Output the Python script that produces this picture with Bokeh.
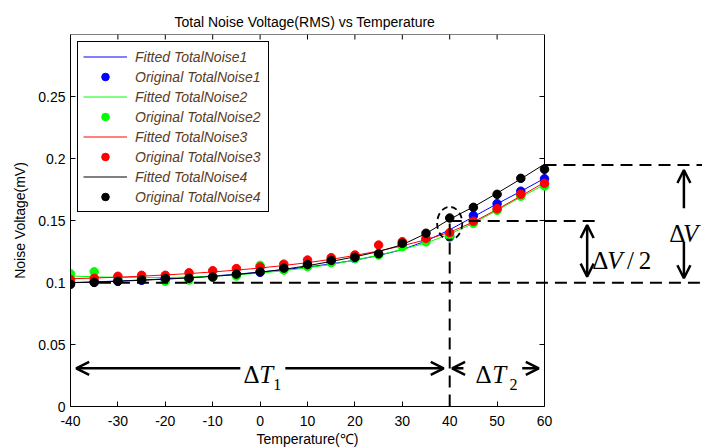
from bokeh.plotting import figure
from bokeh.models import Range1d, FixedTicker, Arrow, OpenHead, Title
from bokeh.embed import file_html
from bokeh.resources import INLINE
from bokeh.core.properties import value

# ---------------- data ----------------
temperature = [-40, -35, -30, -25, -20, -15, -10, -5, 0, 5, 10, 15, 20, 25, 30, 35, 40, 45, 50, 55, 60]

orig1 = [0.0995, 0.1003, 0.1010, 0.1018, 0.1026, 0.1034, 0.1044, 0.1062, 0.1082, 0.1106, 0.1135,
         0.1165, 0.1193, 0.1226, 0.1300, 0.1340, 0.1368, 0.1540, 0.1636, 0.1736, 0.1836]
fit1 = [0.0999, 0.1005, 0.1012, 0.1020, 0.1029, 0.1040, 0.1052, 0.1067, 0.1084, 0.1103, 0.1125,
        0.1150, 0.1180, 0.1218, 0.1265, 0.1335, 0.1425, 0.1530, 0.1635, 0.1735, 0.1840]

orig2 = [0.1070, 0.1086, 0.1030, 0.1028, 0.1010, 0.1020, 0.1042, 0.1052, 0.1138, 0.1100, 0.1128,
         0.1160, 0.1195, 0.1222, 0.1289, 0.1328, 0.1375, 0.1477, 0.1582, 0.1696, 0.1778]
fit2 = [0.1052, 0.1046, 0.1041, 0.1039, 0.1040, 0.1044, 0.1051, 0.1062, 0.1076, 0.1095, 0.1118,
        0.1146, 0.1180, 0.1220, 0.1267, 0.1318, 0.1390, 0.1478, 0.1582, 0.1688, 0.1790]

orig3 = [0.1024, 0.1034, 0.1050, 0.1058, 0.1058, 0.1078, 0.1095, 0.1112, 0.1125, 0.1148, 0.1181,
         0.1200, 0.1222, 0.1302, 0.1329, 0.1356, 0.1402, 0.1494, 0.1595, 0.1712, 0.1800]
fit3 = [0.1030, 0.1036, 0.1043, 0.1051, 0.1061, 0.1072, 0.1085, 0.1100, 0.1117, 0.1137, 0.1160,
        0.1187, 0.1218, 0.1254, 0.1296, 0.1345, 0.1405, 0.1488, 0.1590, 0.1697, 0.1808]

orig4 = [0.0985, 0.1001, 0.1010, 0.1022, 0.1032, 0.1034, 0.1045, 0.1068, 0.1087, 0.1116, 0.1145,
         0.1178, 0.1203, 0.1232, 0.1316, 0.1397, 0.1520, 0.1606, 0.1711, 0.1840, 0.1913]
fit4 = [0.0998, 0.1003, 0.1010, 0.1018, 0.1027, 0.1037, 0.1049, 0.1064, 0.1083, 0.1106, 0.1135,
        0.1170, 0.1207, 0.1250, 0.1305, 0.1395, 0.1510, 0.1610, 0.1720, 0.1835, 0.1955]

series_names = ["TotalNoise1", "TotalNoise2", "TotalNoise3", "TotalNoise4"]
series_colors = ["#0000ff", "#00ff00", "#ff0000", "#000000"]

x_ticks = [-40, -30, -20, -10, 0, 10, 20, 30, 40, 50, 60]
x_tick_labels = ["-40", "-30", "-20", "-10", "0", "10", "20", "30", "40", "50", "60"]
y_ticks = [0, 0.05, 0.1, 0.15, 0.2, 0.25]
y_tick_labels = ["0", "0.05", "0.1", "0.15", "0.2", "0.25"]

# annotation levels
v_low, v_mid, v_high = 0.0998, 0.1496, 0.1948
t_split = 40

# ---------------- figure ----------------
X0, X1 = -40, 60
Y0, Y1 = 0, 0.3
FRAME_W = 632
PX_PER_X = 474 / (X1 - X0)
XR = X0 + FRAME_W / PX_PER_X
FRAME_H = 372
PX_PER_Y = FRAME_H / (Y1 - Y0)

p = figure(width=702, height=448, x_range=Range1d(X0, XR), y_range=Range1d(Y0, Y1),
           output_backend="svg", toolbar_location=None,
           min_border_left=70, min_border_right=0, min_border_top=34, min_border_bottom=42)
p.outline_line_color = None
p.xgrid.visible = False
p.ygrid.visible = False
p.background_fill_color = "white"

FONT = "Liberation Sans"
for ax in (p.xaxis, p.yaxis):
    ax.major_tick_in = 5
    ax.major_tick_out = 0
    ax.minor_tick_line_color = None
    ax.major_label_text_font = FONT
    ax.major_label_text_font_size = "14px"
    ax.major_label_text_color = "black"
    ax.axis_line_color = "black"
    ax.major_tick_line_color = "black"

p.xaxis.bounds = (X0, X1)
p.xaxis.ticker = FixedTicker(ticks=x_ticks)
p.xaxis.major_label_overrides = dict(zip(x_ticks, x_tick_labels))
p.xaxis.major_label_standoff = 9
p.yaxis.ticker = FixedTicker(ticks=y_ticks)
p.yaxis.major_label_overrides = dict(zip(y_ticks, y_tick_labels))
p.yaxis.axis_label = "Noise Voltage(mV)"
p.yaxis.axis_label_text_font = FONT
p.yaxis.axis_label_text_font_size = "14px"
p.yaxis.axis_label_text_font_style = "normal"
p.yaxis.axis_label_text_color = "black"
p.yaxis.axis_label_standoff = 7

# title and x-axis label, centred over the axes box (-40..60)
p.add_layout(Title(text="Total Noise Voltage(RMS) vs Temperature", align="left", offset=104,
                   text_font=FONT, text_font_size="14px", text_font_style="normal",
                   text_color="black", standoff=10), "above")
p.add_layout(Title(text="Temperature(℃)", align="left", offset=186,
                   text_font=FONT, text_font_size="14px", text_font_style="normal",
                   text_color="black", standoff=0), "below")

# box: top and right borders with inward ticks
p.segment(x0=[X0, X1], y0=[Y1, Y0], x1=[X1, X1], y1=[Y1, Y1], line_color="black", line_width=1)
tx = 5 / PX_PER_X
ty = 5 / PX_PER_Y
p.segment(x0=x_ticks, y0=[Y1] * len(x_ticks), x1=x_ticks, y1=[Y1 - ty] * len(x_ticks),
          line_color="black", line_width=1)
p.segment(x0=[X1] * len(y_ticks), y0=y_ticks, x1=[X1 - tx] * len(y_ticks), y1=y_ticks,
          line_color="black", line_width=1)

# ---------------- series ----------------
origs = [orig1, orig2, orig3, orig4]
fits = [fit1, fit2, fit3, fit4]
for name, col, o, f in zip(series_names, series_colors, origs, fits):
    p.line(temperature, f, line_color=col, line_width=1, legend_label="Fitted " + name)
    p.scatter(temperature, o, size=8.5, fill_color=col, line_color=col, legend_label="Original " + name)

# ---------------- annotations ----------------
dash = "12 7"
p.segment(x0=[-34, t_split, X1, t_split], y0=[v_low, v_mid, v_high, 0],
          x1=[XR, 71.4, XR, t_split], y1=[v_low, v_mid, v_high, 0.153],
          line_color="black", line_width=2, line_dash=dash)
p.ellipse(x=[t_split], y=[0.1477], width=5.3, height=0.0266, fill_color=None,
          line_color="black", line_width=1.8, line_dash="6 4")

def head():
    return OpenHead(size=13, line_width=2.5, line_color="black")

ya = 0.0308
for xs, xe in [(-4.17, -38.8), (5.32, 38.74), (42.9, 40.51), (55.3, 58.8)]:
    p.add_layout(Arrow(end=head(), start=None, x_start=xs, y_start=ya, x_end=xe, y_end=ya,
                       line_width=2.5, line_color="black"))
p.add_layout(Arrow(start=head(), end=head(), x_start=69.0, y_start=0.1047, x_end=69.0, y_end=0.1464,
                   line_width=2.5, line_color="black"))
p.add_layout(Arrow(end=head(), start=None, x_start=89.41, y_start=0.1598, x_end=89.41, y_end=0.1907,
                   line_width=2.5, line_color="black"))
p.add_layout(Arrow(end=head(), start=None, x_start=89.41, y_start=0.1329, x_end=89.41, y_end=0.1034,
                   line_width=2.5, line_color="black"))

SERIF = value("Liberation Serif")
big = "25px"
small = "16px"
# upright pieces
p.text(x=[-3.48, 45.43, 70.07, 86.3, 77.4, 79.9], y=[0.026, 0.026, 0.1181, 0.1397, 0.1181, 0.1181],
       text=["Δ", "Δ", "Δ", "Δ", "/", "2"], text_font=SERIF, text_font_size=big,
       text_align="left", text_baseline="alphabetic", text_color="black")
# italic pieces
p.text(x=[-0.2, 48.96, 73.24, 89.2], y=[0.026, 0.026, 0.1181, 0.1397],
       text=["T", "T", "V", "V"], text_font=SERIF, text_font_size=big, text_font_style="italic",
       text_align="left", text_baseline="alphabetic", text_color="black")
# subscripts
p.text(x=[2.79, 52.6], y=[0.0179, 0.0179], text=["1", "2"], text_font=SERIF, text_font_size=small,
       text_align="left", text_baseline="alphabetic", text_color="black")

# ---------------- legend ----------------
lg = p.legend[0]
lg.location = "top_left"
lg.margin = 7
lg.padding = 5
lg.spacing = 1
lg.glyph_height = 19
lg.label_height = 19
lg.glyph_width = 44
lg.label_standoff = 8
lg.label_width = 128
lg.label_text_font = FONT
lg.label_text_font_style = "italic"
lg.label_text_font_size = "14px"
lg.label_text_color = "#5a3c22"
lg.border_line_color = "black"
lg.border_line_width = 1
lg.border_line_alpha = 1
lg.background_fill_alpha = 1

open("out.html", "w").write(file_html(p, INLINE))
